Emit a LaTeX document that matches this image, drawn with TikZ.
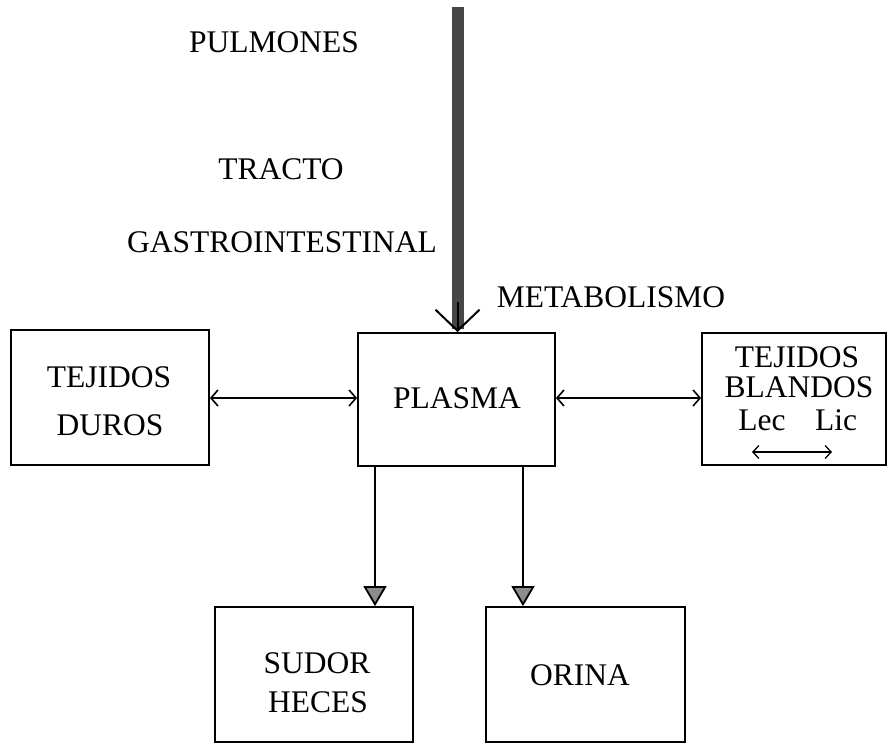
\documentclass[tikz,border=0pt]{standalone}
\usepackage{fontspec}
\setmainfont{Liberation Serif}
\usetikzlibrary{arrows.meta,calc}
\begin{document}
\begin{tikzpicture}[x=1pt,y=-1pt,
  lab/.style={font=\fontsize{31.5}{32}\selectfont, inner sep=0pt, anchor=base},
  box/.style={draw, line width=1.8pt, inner sep=0pt},
  dbl/.style={line width=1.6pt, {Straight Barb[length=7pt,width=16pt]}-{Straight Barb[length=7pt,width=16pt]}},
  down/.style={line width=1.8pt, -{Triangle[length=20pt,width=23pt,fill=black!45]}}
]
\useasboundingbox (0,0) rectangle (888,743);
% boxes
\node[box, minimum width=198pt, minimum height=135pt] (duros) at (110,397.5) {};
\node[box, minimum width=197pt, minimum height=133pt] (plasma) at (456.5,399.5) {};
\node[box, minimum width=184pt, minimum height=132pt] (blandos) at (794,399) {};
\node[box, minimum width=198pt, minimum height=135pt] (sudor) at (314,674.5) {};
\node[box, minimum width=199pt, minimum height=135pt] (orina) at (585.5,674.5) {};
% box texts
\node[lab] (t1) at (109,387) {TEJIDOS};
\node[lab] (t2) at (110,435) {DUROS};
\node[lab] (plasmat) at (457,408) {PLASMA};
\node[lab] (t3) at (797,367) {TEJIDOS};
\node[lab] (t4) at (799,397) {BLANDOS};
\node[lab] (lec) at (762,430) {Lec};
\node[lab] (lic) at (836,430) {Lic};
\node[lab] (t5) at (317,673) {SUDOR};
\node[lab] (t6) at (318,712) {HECES};
\node[lab] (orinat) at (580,685) {ORINA};
\coordinate (la) at (752,452);
\coordinate (lb) at (832,452);
\draw[line width=1.3pt, {Straight Barb[length=6pt,width=13pt]}-{Straight Barb[length=6pt,width=13pt]}] (la) -- (lb);
% labels
\node[lab] (pulm) at (274,53) {PULMONES};
\node[lab] (tracto) at (281,180) {TRACTO};
\node[lab] (gastro) at (282,252) {GASTROINTESTINAL};
\node[lab] (metab) at (611,307) {METABOLISMO};
% thick input arrow
\coordinate (src) at (457.5,7);
\draw[line width=12pt, draw=black!72] (src) -- ([yshift=3pt]plasma.north -| src);
\draw[line width=2pt, -{Straight Barb[length=21pt,width=44pt]}] ([yshift=30pt]plasma.north -| src) -- (plasma.north -| src);
% double arrows
\coordinate (ay) at (0,398);
\draw[dbl] (duros.east |- ay) -- (plasma.west |- ay);
\draw[dbl] (plasma.east |- ay) -- (blandos.west |- ay);
% outflows
\draw[down] ([xshift=-81.5pt]plasma.south) -- ([xshift=-81.5pt]plasma.south |- sudor.north);
\draw[down] ([xshift=66.5pt]plasma.south) -- ([xshift=66.5pt]plasma.south |- orina.north);
\end{tikzpicture}
\end{document}
